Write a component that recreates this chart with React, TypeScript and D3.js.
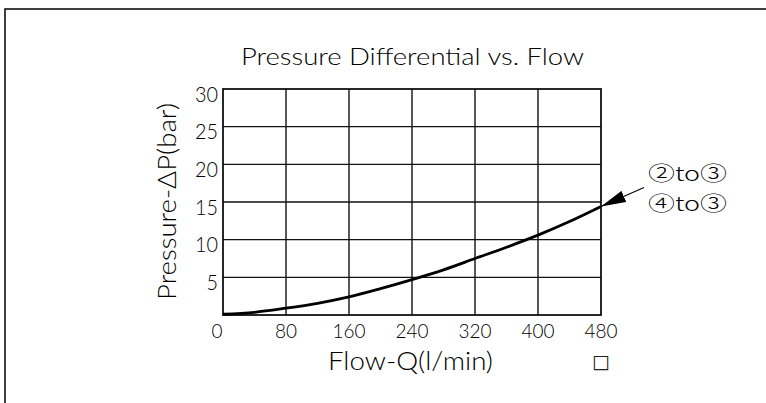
import * as d3 from "d3";
import React, {useEffect, useRef} from "react";

// values
const flowValues = [0, 40, 80, 120, 160, 200, 240, 280, 320, 360, 400, 440, 480];
const pressureValues = [0.1, 0.35, 0.9, 1.55, 2.4, 3.5, 4.7, 6.0, 7.5, 9.0, 10.6, 12.4, 14.4];
const xTicks = [0, 80, 160, 240, 320, 400, 480];
const yTicks = [5, 10, 15, 20, 25, 30];
const legendLines = ["②to③", "④to③"];

const FONT = "Lato, 'Liberation Sans', sans-serif";

const App = () => {
    const ref = useRef(null);

    useEffect(() => {
        const svg = d3.select(ref.current);
        svg.selectAll("*").remove();

        const left = 223, right = 601, top = 89, bottom = 315;

        const x = d3.scaleLinear().domain([0, 480]).range([left, right]);
        const y = d3.scaleLinear().domain([0, 30]).range([bottom, top]);

        // outer frame
        svg.append("rect")
            .attr("x", 5).attr("y", 9)
            .attr("width", 800).attr("height", 420)
            .attr("fill", "none").attr("stroke", "#111").attr("stroke-width", 1.6);

        // title
        svg.append("text")
            .attr("x", 241).attr("y", 64.5)
            .attr("textLength", 343).attr("lengthAdjust", "spacingAndGlyphs")
            .attr("font-family", FONT).attr("font-weight", 300)
            .attr("font-size", 23.5).attr("fill", "#000")
            .text("Pressure Differential vs. Flow");

        // grid
        const grid = svg.append("g").attr("stroke", "#111").attr("stroke-width", 1.4);
        grid.selectAll("line.v").data(xTicks.slice(1, -1)).join("line")
            .attr("x1", d => x(d)).attr("x2", d => x(d))
            .attr("y1", top).attr("y2", bottom);
        grid.selectAll("line.h").data(yTicks.slice(0, -1)).join("line")
            .attr("class", "h")
            .attr("x1", left).attr("x2", right)
            .attr("y1", d => y(d)).attr("y2", d => y(d));

        svg.append("rect")
            .attr("x", left).attr("y", top)
            .attr("width", right - left).attr("height", bottom - top)
            .attr("fill", "none").attr("stroke", "#111").attr("stroke-width", 1.8);

        // tick labels (tall, narrow digits)
        svg.append("g")
            .selectAll("text").data(xTicks).join("text")
            .attr("x", d => x(d) - (d === 0 ? 6 : 0)).attr("y", 338)
            .attr("text-anchor", "middle")
            .attr("textLength", d => String(d).length * 11)
            .attr("lengthAdjust", "spacingAndGlyphs")
            .attr("font-family", FONT).attr("font-weight", 300)
            .attr("font-size", 20).attr("fill", "#000")
            .text(d => d);

        svg.append("g")
            .selectAll("text").data(yTicks).join("text")
            .attr("x", 218).attr("y", d => y(d) + 12.5)
            .attr("text-anchor", "end")
            .attr("textLength", d => String(d).length * 11.5)
            .attr("lengthAdjust", "spacingAndGlyphs")
            .attr("font-family", FONT).attr("font-weight", 300)
            .attr("font-size", 21.5).attr("fill", "#000")
            .text(d => d);

        // axis titles
        svg.append("text")
            .attr("x", 328).attr("y", 370)
            .attr("textLength", 165).attr("lengthAdjust", "spacingAndGlyphs")
            .attr("font-family", FONT).attr("font-weight", 300)
            .attr("font-size", 25).attr("fill", "#000")
            .text("Flow-Q(l/min)");

        svg.append("text")
            .attr("transform", "translate(176,300) rotate(-90)")
            .attr("textLength", 197).attr("lengthAdjust", "spacingAndGlyphs")
            .attr("font-family", FONT).attr("font-weight", 300)
            .attr("font-size", 26).attr("fill", "#000")
            .text("Pressure-ΔP(bar)");

        // curve
        const data = flowValues.map((q, i) => ({q, p: pressureValues[i]}));
        const line = d3.line()
            .x(d => x(d.q))
            .y(d => y(d.p))
            .curve(d3.curveCatmullRom.alpha(0.5));
        svg.append("path")
            .datum(data)
            .attr("d", line)
            .attr("fill", "none").attr("stroke", "#000").attr("stroke-width", 2.8);

        // legend arrow pointing at the curve end
        const last = data[data.length - 1];
        const tipX = x(last.q), tipY = y(last.p);
        svg.append("defs").append("marker")
            .attr("id", "head").attr("viewBox", "0 0 25 12")
            .attr("refX", 25).attr("refY", 6)
            .attr("markerWidth", 25).attr("markerHeight", 12)
            .attr("markerUnits", "userSpaceOnUse")
            .attr("orient", "auto")
            .append("path").attr("d", "M0,0 L25,6 L0,12 Z").attr("fill", "#000");
        svg.append("line")
            .attr("x1", 644).attr("y1", 187.5)
            .attr("x2", tipX).attr("y2", tipY)
            .attr("stroke", "#000").attr("stroke-width", 1.1)
            .attr("marker-end", "url(#head)");

        svg.append("g")
            .selectAll("text").data(legendLines).join("text")
            .attr("x", 648).attr("y", (d, i) => 181 + i * 29.5)
            .attr("textLength", 79).attr("lengthAdjust", "spacingAndGlyphs")
            .attr("font-family", "'Noto Sans CJK JP', sans-serif").attr("font-weight", 300)
            .attr("font-size", 20).attr("fill", "#000")
            .text(d => d);

        // stray glyph under the axis
        svg.append("text")
            .attr("x", 601).attr("y", 368)
            .attr("text-anchor", "middle")
            .attr("font-family", "'DejaVu Sans', sans-serif").attr("font-size", 19).attr("fill", "#222")
            .text("□");
    }, []);

    return (
        <svg ref={ref} width={766} height={403}
             style={{position: "absolute", left: 0, top: 0, background: "#fff"}}/>
    );
};

export default App;
